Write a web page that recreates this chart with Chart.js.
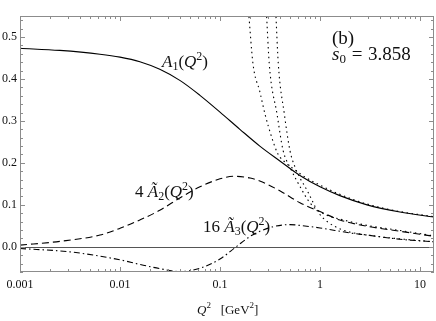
<!DOCTYPE html>
<html>
<head>
<meta charset="utf-8">
<script src="https://cdn.jsdelivr.net/npm/chart.js"></script>
<style>
  html, body { margin: 0; padding: 0; background: #fff; }
  #wrap { width: 436px; height: 321px; }
</style>
</head>
<body>
<div id="wrap"><canvas id="chart"></canvas></div>
<script>
// values (Q^2 in GeV^2)
const q2A1 = [0.001, 0.0025, 0.0063, 0.01, 0.0158, 0.025, 0.04, 0.063, 0.1, 0.158, 0.25, 0.4, 0.63, 1, 1.58, 2.95, 6.3, 13.8];
const a1 = [0.473, 0.468, 0.459, 0.452, 0.441, 0.423, 0.396, 0.361, 0.321, 0.28, 0.24, 0.204, 0.17, 0.143, 0.122, 0.1, 0.083, 0.071];

const q2A2 = [0.001, 0.0025, 0.0063, 0.01, 0.0158, 0.025, 0.04, 0.063, 0.1, 0.135, 0.2, 0.25, 0.4, 0.63, 1, 1.58, 2.95, 6.3, 13.8];
const a2 = [0.004, 0.013, 0.028, 0.044, 0.064, 0.087, 0.117, 0.143, 0.162, 0.168, 0.164, 0.157, 0.133, 0.105, 0.084, 0.064, 0.049, 0.037, 0.025];

const q2A3 = [0.001, 0.00316, 0.01, 0.0158, 0.025, 0.04, 0.063, 0.1, 0.145, 0.2, 0.25, 0.34, 0.5, 0.63, 1, 2, 2.95, 6.3, 13.8];
const a3 = [-0.004, -0.012, -0.031, -0.042, -0.052, -0.059, -0.051, -0.029, 0.0, 0.025, 0.037, 0.048, 0.053, 0.051, 0.045, 0.033, 0.028, 0.018, 0.012];

const q2P1 = [0.193, 0.214, 0.25, 0.282, 0.331, 0.38, 0.45, 0.55, 0.7, 1.0, 1.58, 2.95, 6.3, 13.8];
const p1 = [0.56, 0.435, 0.37, 0.316, 0.259, 0.221, 0.201, 0.185, 0.167, 0.147, 0.125, 0.102, 0.084, 0.072];

const q2P2 = [0.291, 0.311, 0.372, 0.427, 0.5, 0.661, 0.759, 0.891, 1.17, 1.585, 2.95, 6.3, 13.8];
const p2 = [0.56, 0.435, 0.316, 0.23, 0.19, 0.135, 0.111, 0.092, 0.075, 0.066, 0.051, 0.039, 0.026];

const q2P3 = [0.361, 0.383, 0.44, 0.5, 0.562, 0.631, 0.741, 0.832, 0.955, 1.2, 1.7, 3.72, 6.3, 13.8];
const p3 = [0.56, 0.435, 0.316, 0.23, 0.19, 0.164, 0.135, 0.111, 0.083, 0.059, 0.04, 0.025, 0.019, 0.012];

const xTicks = [0.001, 0.01, 0.1, 1, 10];
const xTickLabels = ['0.001', '0.01', '0.1', '1', '10'];
const yTicks = [0, 0.1, 0.2, 0.3, 0.4, 0.5];
const yTickLabels = ['0.0', '0.1', '0.2', '0.3', '0.4', '0.5'];

const serif = "'Liberation Serif', 'Times New Roman', serif";
const toPoints = (xs, ys) => xs.map((x, i) => ({ x, y: ys[i] }));

function curve(xs, ys, dash) {
  return {
    data: toPoints(xs, ys),
    borderColor: '#000',
    borderWidth: 1.1,
    borderDash: dash,
    pointRadius: 0,
    fill: false,
    cubicInterpolationMode: 'monotone',
  };
}

// draws a run of text pieces (italic / sub / superscript)
function drawParts(ctx, x, y, parts) {
  let cx = x;
  parts.forEach((p) => {
    ctx.font = `${p.it ? 'italic ' : ''}${p.s}px ${serif}`;
    ctx.fillText(p.t, cx, y + (p.dy || 0));
    cx += ctx.measureText(p.t).width + (p.k || 0);
  });
}

const framePlugin = {
  id: 'frame',
  beforeDatasetsDraw(chart) {
    const { ctx, chartArea: a, scales: { y } } = chart;
    const y0 = Math.round(y.getPixelForValue(0)) + 0.5;
    ctx.save();
    ctx.strokeStyle = '#555';
    ctx.lineWidth = 1;
    ctx.beginPath();
    ctx.moveTo(a.left, y0);
    ctx.lineTo(a.right, y0);
    ctx.stroke();
    ctx.restore();
  },
  afterDatasetsDraw(chart) {
    const { ctx, chartArea: a, scales: { x, y } } = chart;
    ctx.save();
    ctx.strokeStyle = '#8c8c8c';
    ctx.lineWidth = 1;
    ctx.strokeRect(a.left + 0.5, a.top + 0.5, a.right - a.left - 1, a.bottom - a.top - 1);
    ctx.beginPath();
    for (let e = -3; e <= 1; e += 1) {
      for (let m = 1; m <= 9; m += 1) {
        const v = m * 10 ** e;
        if (v <= x.max) {
          const px = Math.round(x.getPixelForValue(v)) + 0.5;
          const len = m === 1 ? 5 : 3;
          ctx.moveTo(px, a.bottom);
          ctx.lineTo(px, a.bottom - len);
          ctx.moveTo(px, a.top);
          ctx.lineTo(px, a.top + len);
        }
      }
    }
    for (let i = -3; i <= 27; i += 1) {
      const v = i * 0.02;
      if (v >= y.min && v <= y.max) {
        const py = Math.round(y.getPixelForValue(v)) + 0.5;
        const len = i % 5 === 0 ? 5 : 3;
        ctx.moveTo(a.left, py);
        ctx.lineTo(a.left + len, py);
        ctx.moveTo(a.right, py);
        ctx.lineTo(a.right - len, py);
      }
    }
    ctx.stroke();
    ctx.restore();
  },
  afterDraw(chart) {
    const { ctx, scales: { x, y } } = chart;
    const at = (qx, vy) => [x.getPixelForValue(qx), y.getPixelForValue(vy)];
    const big = 17;
    const sub = 12;
    ctx.save();
    ctx.fillStyle = '#111';
    ctx.textBaseline = 'alphabetic';
    ctx.textAlign = 'left';

    let [px, py] = at(0.0263, 0.428);
    drawParts(ctx, px, py, [
      { t: 'A', it: 1, s: big }, { t: '1', s: sub, dy: 3 }, { t: '(', s: big },
      { t: 'Q', it: 1, s: big }, { t: '2', s: sub, dy: -7 }, { t: ')', s: big },
    ]);

    [px, py] = at(0.01413, 0.118);
    drawParts(ctx, px, py, [
      { t: '4 ', s: big }, { t: 'Ã', it: 1, s: big }, { t: '2', s: sub, dy: 3 }, { t: '(', s: big },
      { t: 'Q', it: 1, s: big }, { t: '2', s: sub, dy: -7 }, { t: ')', s: big },
    ]);

    [px, py] = at(0.0676, 0.035);
    drawParts(ctx, px, py, [
      { t: '16 ', s: big }, { t: 'Ã', it: 1, s: big }, { t: '3', s: sub, dy: 3 }, { t: '(', s: big },
      { t: 'Q', it: 1, s: big }, { t: '2', s: sub, dy: -7 }, { t: ')', s: big },
    ]);

    [px, py] = at(1.318, 0.483);
    drawParts(ctx, px, py, [{ t: '(b)', s: 19 }]);

    [px, py] = at(1.318, 0.446);
    drawParts(ctx, px, py, [
      { t: 's', it: 1, s: 19 }, { t: '0', s: 13, dy: 3, k: 1 }, { t: ' = ', s: 19, k: 1 }, { t: '3.858', s: 19 },
    ]);

    // axis title
    drawParts(ctx, 197, 314, [
      { t: 'Q', it: 1, s: 13 }, { t: '2', s: 9, dy: -6 }, { t: '   [GeV', s: 13 },
      { t: '2', s: 9, dy: -6 }, { t: ']', s: 13 },
    ]);
    ctx.restore();
  },
};

new Chart(document.getElementById('chart'), {
  type: 'line',
  data: {
    datasets: [
      curve(q2A1, a1, []),
      curve(q2A2, a2, [7, 4]),
      curve(q2A3, a3, [6, 3, 1.5, 3]),
      curve(q2P1, p1, [1.5, 3.5]),
      curve(q2P2, p2, [1.5, 3.5]),
      curve(q2P3, p3, [1.5, 3.5]),
    ],
  },
  options: {
    responsive: true,
    maintainAspectRatio: false,
    animation: false,
    layout: { padding: { top: 16, right: 2, left: 0, bottom: 0 } },
    plugins: { legend: { display: false }, tooltip: { enabled: false } },
    scales: {
      x: {
        type: 'logarithmic',
        min: 0.001,
        max: 13.8,
        grid: { display: false, drawTicks: false },
        border: { display: false },
        afterBuildTicks(scale) {
          scale.ticks = xTicks.map((v) => ({ value: v }));
        },
        afterFit(scale) {
          scale.height = 49;
        },
        ticks: {
          autoSkip: false,
          maxRotation: 0,
          padding: 6,
          color: '#111',
          font: { family: serif, size: 12 },
          callback(value, index) {
            return xTickLabels[index];
          },
        },
      },
      y: {
        type: 'linear',
        min: -0.06,
        max: 0.55,
        grid: { display: false, drawTicks: false },
        border: { display: false },
        afterBuildTicks(scale) {
          scale.ticks = yTicks.map((v) => ({ value: v }));
        },
        afterFit(scale) {
          scale.width = 20;
        },
        ticks: {
          padding: 3,
          color: '#111',
          font: { family: serif, size: 12 },
          callback(value, index) {
            return yTickLabels[index];
          },
        },
      },
    },
  },
  plugins: [framePlugin],
});
</script>
</body>
</html>
